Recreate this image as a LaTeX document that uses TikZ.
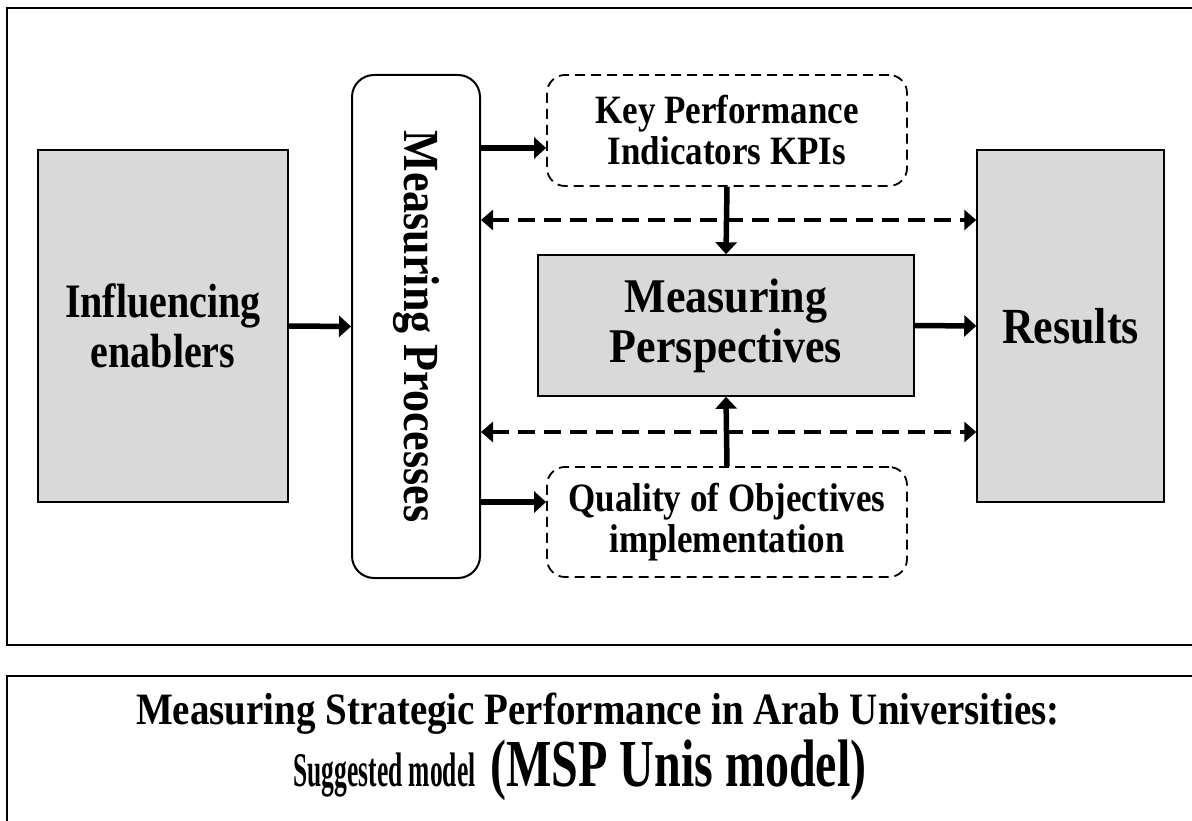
\documentclass[tikz,border=0pt]{standalone}
\usepackage{fontspec}
\setmainfont{Liberation Serif}
\usetikzlibrary{arrows.meta}
\definecolor{boxgray}{HTML}{D9D9D9}
\newcommand{\ystr}[2]{\scalebox{1}[#1]{#2}}
\tikzset{
  graybox/.style={draw=black, line width=1.5pt, fill=boxgray, align=center, font=\bfseries\fontsize{40}{50}\selectfont},
  procbox/.style={draw=black, line width=2pt, rounded corners=22pt, fill=white},
  dashbox/.style={draw=black, line width=1.8pt, dash pattern=on 10pt off 6pt, rounded corners=18pt, align=center, font=\bfseries\fontsize{35}{41}\selectfont},
  solidarrow/.style={line width=5.5pt, -{Triangle[length=12pt,width=21pt]}},
  dasharrow/.style={line width=3.5pt, dash pattern=on 17pt off 9pt, {Triangle[length=12pt,width=20pt]}-{Triangle[length=12pt,width=20pt]}},
  frame/.style={draw=black, line width=2pt},
}
\begin{document}
\begin{tikzpicture}[x=1pt,y=-1pt]
\useasboundingbox (0,0) rectangle (1192,821);
\fill[white] (0,0) rectangle (1192,821);
\draw[frame] (1200,8) -- (7,8) -- (7,645) -- (1200,645);
\draw[frame] (1200,676) -- (7,676) -- (7,830);

\node[graybox, minimum width=250pt, minimum height=352pt] (enab) at (163,326) {\ystr{1.2}{Influencing}\\\ystr{1.2}{enablers}};
\node[procbox, minimum width=128pt, minimum height=503pt] (proc) at (416,326.5) {};
\node[rotate=-90, font=\bfseries\fontsize{44}{48}\selectfont] (proctxt) at (proc.center) {\ystr{1.15}{Measuring Processes}};
\node[dashbox, minimum width=360pt, minimum height=111pt] (kpi) at (727,130.5) {\ystr{1.15}{Key Performance}\\\ystr{1.15}{Indicators KPIs}};
\node[dashbox, minimum width=360pt, minimum height=110pt] (qual) at (727,522) {\ystr{1.15}{Quality of Objectives}\\\ystr{1.15}{implementation}};
\node[graybox, minimum width=376pt, minimum height=141pt, font=\bfseries\fontsize{44}{50}\selectfont] (persp) at (726,325.5) {\ystr{1.1}{Measuring}\\\ystr{1.1}{Perspectives}};
\node[graybox, minimum width=187pt, minimum height=352pt, font=\bfseries\fontsize{44}{48}\selectfont] (res) at (1070.5,326) {\ystr{1.15}{Results}};

\draw[solidarrow] (enab.east) -- (proc.west);
\draw[solidarrow] (proc.east |- 0,148) -- (kpi.west |- 0,148);
\draw[solidarrow] (proc.east |- 0,502) -- (qual.west |- 0,502);
\draw[solidarrow] (kpi.south) -- (persp.north);
\draw[solidarrow] (qual.north) -- (persp.south);
\draw[solidarrow] (persp.east) -- (res.west);
\draw[dasharrow] (proc.east |- 0,220) -- (res.west |- 0,220);
\draw[dasharrow] (proc.east |- 0,432) -- (res.west |- 0,432);

\node[anchor=base, font=\bfseries\fontsize{39}{44}\selectfont] (t1) at (598,724) {\ystr{1.15}{Measuring Strategic Performance in Arab Universities:}};
\node[anchor=base east, font=\bfseries\fontsize{25.5}{30}\selectfont] (t2) at (479,786) {\ystr{1.9}{Suggested model}};
\node[anchor=base west, font=\bfseries\fontsize{48}{52}\selectfont] (t3) at (487,786) {\ystr{1.4}{(MSP Unis model)}};
\end{tikzpicture}
\end{document}
